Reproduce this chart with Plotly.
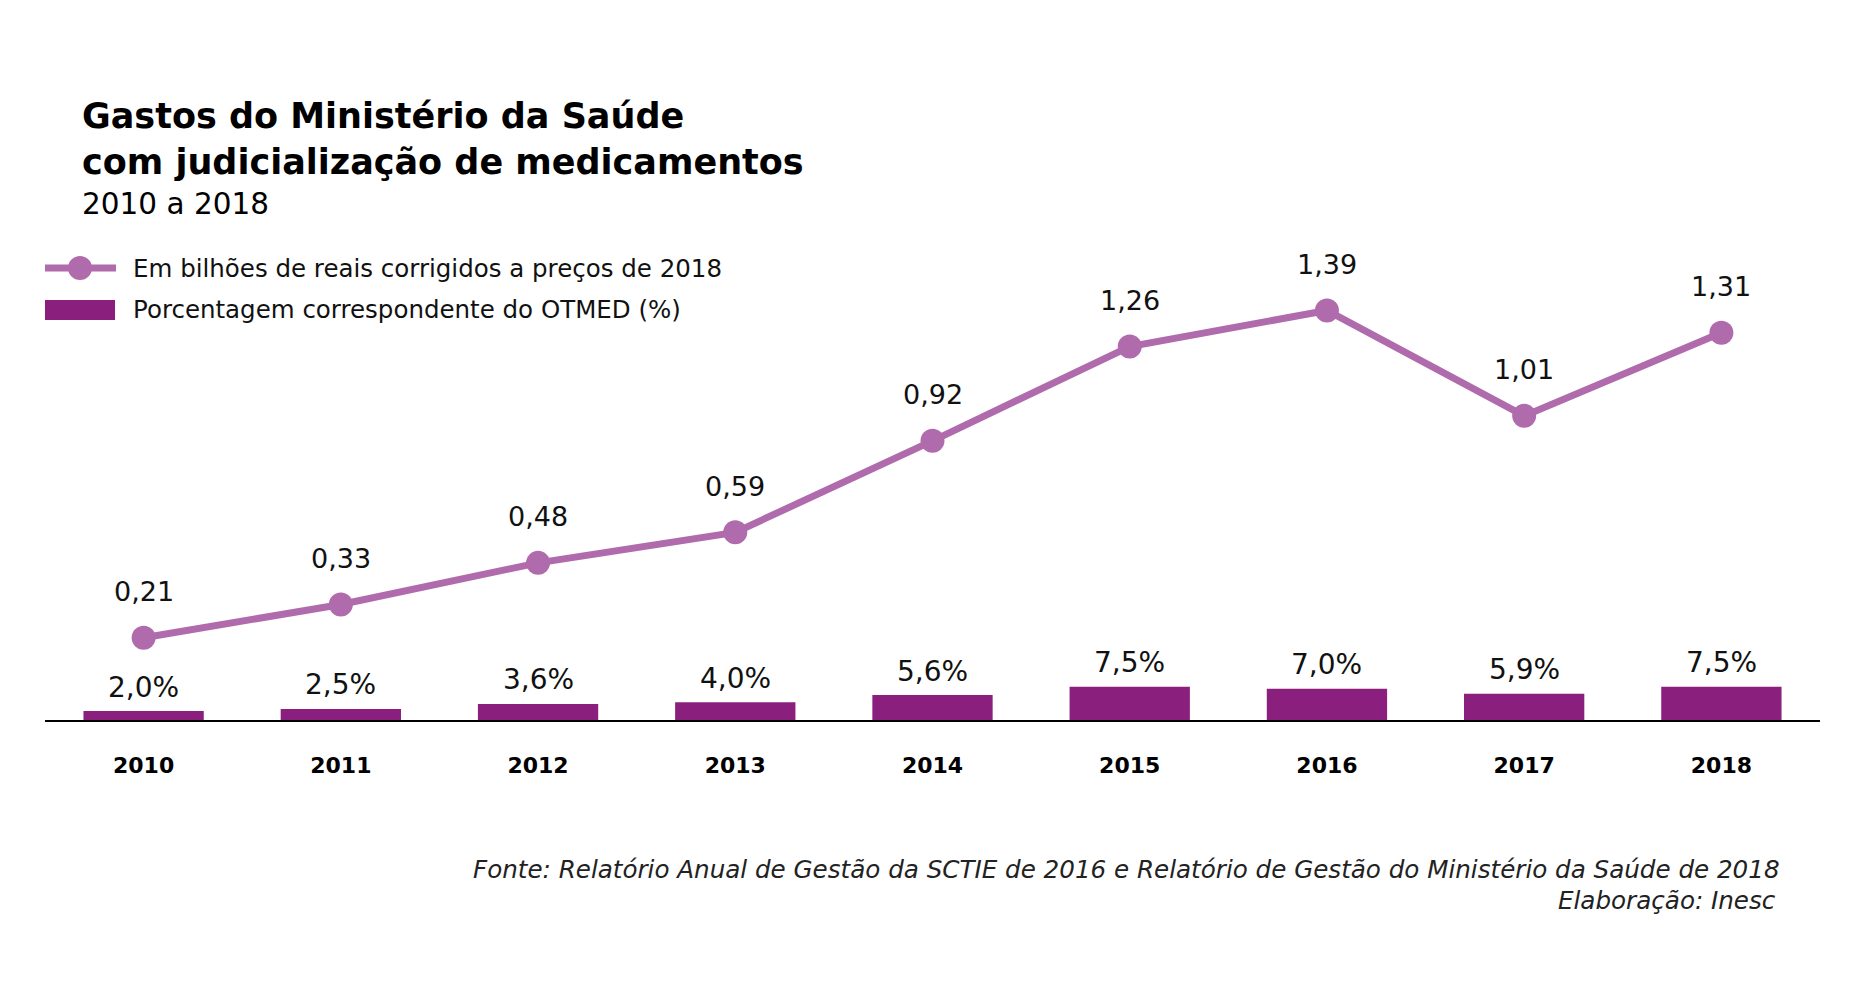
import plotly.graph_objects as go

# Data
anos = ["2010", "2011", "2012", "2013", "2014", "2015", "2016", "2017", "2018"]
gastos_bi = [0.21, 0.33, 0.48, 0.59, 0.92, 1.26, 1.39, 1.01, 1.31]
pct_otmed = [2.0, 2.5, 3.6, 4.0, 5.6, 7.5, 7.0, 5.9, 7.5]

gastos_txt = [f"{v:.2f}".replace(".", ",") for v in gastos_bi]
pct_txt = [f"{v:.1f}%".replace(".", ",") for v in pct_otmed]

COR_LINHA = "#B06BAD"
COR_BARRA = "#8A1F7E"
FONTE = "DejaVu Sans, sans-serif"

# the page body adds an 8px margin, so the figure is a bit smaller than the window
W, H = 1843, 967
M_L, M_R, M_T, M_B = 37, 31, 242, 255
PW, PH = W - M_L - M_R, H - M_T - M_B


# helpers: page pixel -> paper coordinate
def px_x(px):
    return (px - 8 - M_L) / PW


def px_y(py):
    return (H - M_B - (py - 8)) / PH


fig = go.Figure()

fig.add_trace(go.Bar(
    x=anos, y=pct_otmed, name="Porcentagem correspondente do OTMED (%)",
    marker=dict(color=COR_BARRA, line=dict(width=0)),
    hovertemplate="%{x}: %{y:.1f}%<extra></extra>",
    showlegend=False,
))

fig.add_trace(go.Scatter(
    x=anos, y=gastos_bi, yaxis="y2", mode="lines+markers",
    name="Em bilhões de reais corrigidos a preços de 2018",
    line=dict(color=COR_LINHA, width=7),
    marker=dict(color=COR_LINHA, size=24),
    hovertemplate="%{x}: R$ %{y:.2f} bi<extra></extra>",
    showlegend=False,
))

anns = []
# labels above line points (x as category index)
for i, (v, t) in enumerate(zip(gastos_bi, gastos_txt)):
    anns.append(dict(x=i, y=v, xref="x", yref="y2", text=t, showarrow=False,
                     yshift=46, font=dict(size=27, color="#111111")))
# labels above bars
for i, (v, t) in enumerate(zip(pct_otmed, pct_txt)):
    anns.append(dict(x=i, y=v, xref="x", yref="y", text=t, showarrow=False,
                     yshift=24, font=dict(size=28, color="#111111")))

# title block
anns.append(dict(xref="paper", yref="paper", x=px_x(80), y=px_y(139), xanchor="left",
                 yanchor="middle", align="left", showarrow=False,
                 text="<b>Gastos do Ministério da Saúde</b><br><b>com judicialização de medicamentos</b>",
                 font=dict(size=35, color="#000000")))
anns.append(dict(xref="paper", yref="paper", x=px_x(80), y=px_y(204), xanchor="left",
                 yanchor="middle", showarrow=False, text="2010 a 2018",
                 font=dict(size=29.5, color="#000000")))

# manual legend
anns.append(dict(xref="paper", yref="paper", x=px_x(131), y=px_y(268), xanchor="left",
                 yanchor="middle", showarrow=False,
                 text="Em bilhões de reais corrigidos a preços de 2018",
                 font=dict(size=24.5, color="#111111")))
anns.append(dict(xref="paper", yref="paper", x=px_x(131), y=px_y(309), xanchor="left",
                 yanchor="middle", showarrow=False,
                 text="Porcentagem correspondente do OTMED (%)",
                 font=dict(size=24.5, color="#111111")))

# footer
anns.append(dict(xref="paper", yref="paper", x=px_x(1782), y=px_y(869), xanchor="right",
                 yanchor="middle", showarrow=False,
                 text="<i>Fonte: Relatório Anual de Gestão da SCTIE de 2016 e Relatório de Gestão do Ministério da Saúde de 2018</i>",
                 font=dict(size=24.6, color="#222222")))
anns.append(dict(xref="paper", yref="paper", x=px_x(1778), y=px_y(900), xanchor="right",
                 yanchor="middle", showarrow=False, text="<i>Elaboração: Inesc</i>",
                 font=dict(size=24.6, color="#222222")))

shapes = [
    dict(type="line", xref="paper", yref="paper", x0=px_x(45), x1=px_x(116),
         y0=px_y(268), y1=px_y(268), line=dict(color=COR_LINHA, width=7)),
    dict(type="circle", xref="paper", yref="paper", xsizemode="pixel", ysizemode="pixel",
         xanchor=px_x(80), yanchor=px_y(268), x0=-12, x1=12, y0=-12, y1=12,
         fillcolor=COR_LINHA, line=dict(width=0)),
    dict(type="rect", xref="paper", yref="paper", x0=px_x(45), x1=px_x(115),
         y0=px_y(320), y1=px_y(300), fillcolor=COR_BARRA, line=dict(width=0)),
]

fig.update_layout(
    width=W, height=H,
    margin=dict(l=M_L, r=M_R, t=M_T, b=M_B),
    paper_bgcolor="white", plot_bgcolor="white",
    font=dict(family=FONTE, color="#111111"),
    bargap=0.39,
    showlegend=False,
    annotations=anns,
    shapes=shapes,
    xaxis=dict(type="category", range=[-0.5, 8.5], showgrid=False, zeroline=False,
               showline=True, linecolor="#000000", linewidth=2,
               ticks="outside", ticklen=25, tickcolor="rgba(0,0,0,0)",
               tickfont=dict(size=22, color="#000000", weight="bold"),
               fixedrange=True),
    yaxis=dict(range=[0, PH / 4.45], visible=False, fixedrange=True),
    yaxis2=dict(range=[-0.0865, 1.608], overlaying="y", visible=False, fixedrange=True),
)

fig.write_html("out.html")
